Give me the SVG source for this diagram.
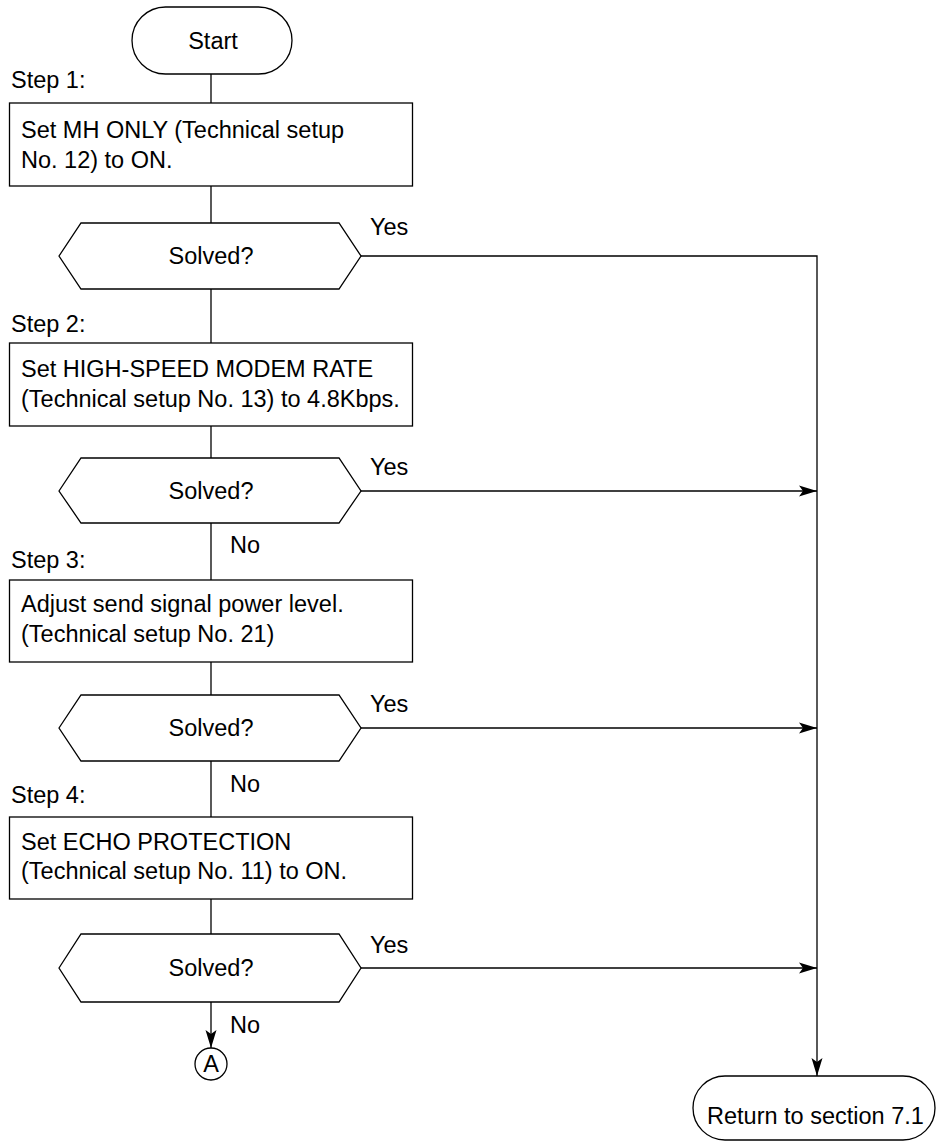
<svg xmlns="http://www.w3.org/2000/svg" width="937" height="1142" viewBox="0 0 937 1142">
<style>
text{font-family:"Liberation Sans",Arial,sans-serif;font-size:23.5px;fill:#000}
.s{fill:#fff;stroke:#000;stroke-width:1.3}
.c{fill:none;stroke:#000;stroke-width:1.3}
.m{text-anchor:middle}
</style>
<defs>
<marker id="ar" markerUnits="userSpaceOnUse" markerWidth="18" markerHeight="12" refX="18" refY="6" orient="auto">
<path d="M0,0.5 L18,6 L0,11.5 L4,6 z" fill="#000"/>
</marker>
</defs>
<g id="connectors">
<path class="c" d="M211,74V103"/>
<path class="c" d="M211,186V223"/>
<path class="c" d="M211,289V343"/>
<path class="c" d="M211,426V458"/>
<path class="c" d="M211,523V580"/>
<path class="c" d="M211,662V695"/>
<path class="c" d="M211,761V817"/>
<path class="c" d="M211,899V934"/>
<path class="c" d="M211,1002V1048" marker-end="url(#ar)"/>
<path class="c" d="M361,256H817V1076" marker-end="url(#ar)"/>
<path class="c" d="M361,491H817" marker-end="url(#ar)"/>
<path class="c" d="M361,728H817" marker-end="url(#ar)"/>
<path class="c" d="M361,968H817" marker-end="url(#ar)"/>
<text x="370" y="235">Yes</text>
<text x="370" y="475">Yes</text>
<text x="370" y="712">Yes</text>
<text x="370" y="953">Yes</text>
<text x="230" y="553">No</text>
<text x="230" y="792">No</text>
<text x="230" y="1033">No</text>
</g>
<g id="start">
<rect class="s" x="132" y="7" width="160" height="67" rx="33.5"/>
<text class="m" x="213" y="49">Start</text>
</g>
<g id="step1">
<text x="11" y="88">Step 1:</text>
<rect class="s" x="9.5" y="103" width="403" height="83"/>
<text x="21" y="138">Set MH ONLY (Technical setup</text>
<text x="21" y="168">No. 12) to ON.</text>
</g>
<g id="decision1">
<path class="s" d="M59,256L81,223H339L361,256L339,289H81z"/>
<text class="m" x="211" y="264">Solved?</text>
</g>
<g id="step2">
<text x="11" y="332">Step 2:</text>
<rect class="s" x="9.5" y="343" width="403" height="83"/>
<text x="21" y="377">Set HIGH-SPEED MODEM RATE</text>
<text x="21" y="407">(Technical setup No. 13) to 4.8Kbps.</text>
</g>
<g id="decision2">
<path class="s" d="M59,491L81,458H339L361,491L339,523H81z"/>
<text class="m" x="211" y="499">Solved?</text>
</g>
<g id="step3">
<text x="11" y="568">Step 3:</text>
<rect class="s" x="9.5" y="580" width="403" height="82"/>
<text x="21" y="612">Adjust send signal power level.</text>
<text x="21" y="642">(Technical setup No. 21)</text>
</g>
<g id="decision3">
<path class="s" d="M59,728L81,695H339L361,728L339,761H81z"/>
<text class="m" x="211" y="736">Solved?</text>
</g>
<g id="step4">
<text x="11" y="803">Step 4:</text>
<rect class="s" x="9.5" y="817" width="403" height="82"/>
<text x="21" y="850">Set ECHO PROTECTION</text>
<text x="21" y="879">(Technical setup No. 11) to ON.</text>
</g>
<g id="decision4">
<path class="s" d="M59,968L81,934H339L361,968L339,1002H81z"/>
<text class="m" x="211" y="976">Solved?</text>
</g>
<g id="connectorA">
<circle class="s" cx="211" cy="1064" r="16"/>
<text class="m" x="211" y="1072">A</text>
</g>
<g id="return">
<rect class="s" x="693" y="1076" width="242" height="64" rx="32"/>
<text x="707" y="1124">Return to section 7.1</text>
</g>
</svg>
